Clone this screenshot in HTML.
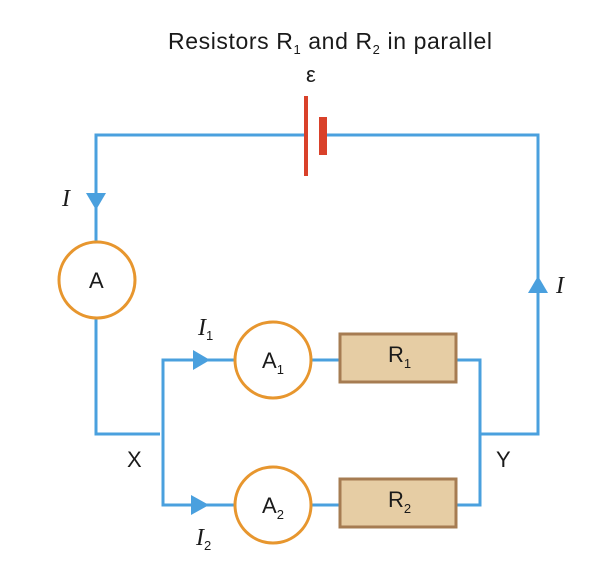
<!DOCTYPE html>
<html><head><style>body{margin:0;background:#fff}</style></head><body>
<svg width="610" height="560" xmlns="http://www.w3.org/2000/svg" font-family="Liberation Sans, sans-serif">
<rect width="610" height="560" fill="#fff"/>
<g stroke="#4aa0de" stroke-width="3" fill="none">
<polyline points="306,135 96,135 96,434 160,434"/>
<polyline points="323,135 538,135 538,434 480,434"/>
<polyline points="258,360 163,360 163,505 258,505"/>
<line x1="311" y1="360" x2="340" y2="360"/><line x1="311" y1="505" x2="340" y2="505"/>
<polyline points="456,360 480,360 480,505 456,505"/>
</g>
<g fill="#4aa0de">
<polygon points="86,193 106,193 96,210"/>
<polygon points="528,293 548,293 538,276"/>
<polygon points="193,350 193,370 210,360"/>
<polygon points="191,495 191,515 209,505"/>
</g>
<line x1="306" y1="96" x2="306" y2="176" stroke="#d9412a" stroke-width="4"/>
<rect x="319" y="117" width="8" height="38" fill="#d9412a"/>
<g stroke="#e7962e" stroke-width="3" fill="#fff">
<circle cx="97" cy="280" r="38"/><circle cx="273" cy="360" r="38"/><circle cx="273" cy="505" r="38"/>
</g>
<g fill="#e6cda4" stroke="#a67c52" stroke-width="3">
<rect x="340" y="334" width="116" height="48"/><rect x="340" y="479" width="116" height="48"/>
</g>
<g fill="#1a1a1a" font-size="22">
<text x="168" y="49" font-size="23" letter-spacing="0.6">Resistors R<tspan font-size="13" dy="5">1</tspan><tspan dy="-5"> and R</tspan><tspan font-size="13" dy="5">2</tspan><tspan dy="-5"> in parallel</tspan></text>
<text x="306" y="82">ε</text>
<text x="89" y="288">A</text>
<text x="262" y="368">A<tspan font-size="13" dy="6">1</tspan></text>
<text x="262" y="513">A<tspan font-size="13" dy="6">2</tspan></text>
<text x="388" y="362">R<tspan font-size="13" dy="6">1</tspan></text>
<text x="388" y="507">R<tspan font-size="13" dy="6">2</tspan></text>
<text x="127" y="467">X</text>
<text x="496" y="467">Y</text>
<g font-family="Liberation Serif, serif" font-style="italic" font-size="24">
<text x="62" y="206">I</text>
<text x="556" y="293">I</text>
<text x="198" y="335">I<tspan font-style="normal" font-family="Liberation Sans" font-size="13" dy="5">1</tspan></text>
<text x="196" y="545">I<tspan font-style="normal" font-family="Liberation Sans" font-size="13" dy="5">2</tspan></text>
</g>
</g>
</svg>
</body></html>
